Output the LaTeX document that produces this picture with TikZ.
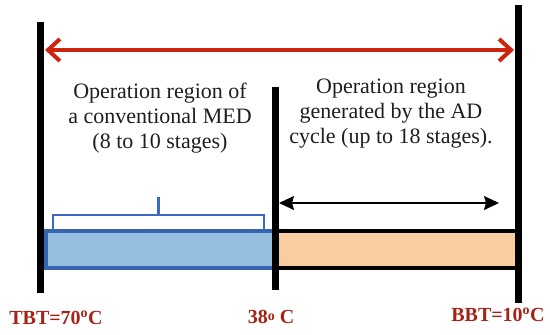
\documentclass[tikz,border=0pt]{standalone}
\usepackage{fontspec}
\setmainfont{Liberation Serif}
\usetikzlibrary{arrows.meta}
\definecolor{redarrow}{RGB}{205,35,15}
\definecolor{labelred}{RGB}{165,35,20}
\definecolor{bluefill}{RGB}{150,190,222}
\definecolor{blueline}{RGB}{55,100,175}
\definecolor{bracketblue}{RGB}{60,105,195}
\definecolor{orangefill}{RGB}{250,205,160}
\definecolor{textgray}{RGB}{30,30,30}
\tikzset{
  bar/.style={line width=7pt},
  regiontext/.style={font=\fontsize{22}{25}\selectfont, align=center, text=textgray, inner sep=0pt},
  templabel/.style={font=\fontsize{20}{22}\selectfont\bfseries, text=labelred, inner sep=0pt},
}
\begin{document}
\begin{tikzpicture}[x=1pt,y=-1pt]
\useasboundingbox (0,0) rectangle (550,335);
% vertical bars
\coordinate (LT) at (40,22);  \coordinate (LB) at (40,293);
\coordinate (MT) at (275,87); \coordinate (MB) at (275,290);
\coordinate (RT) at (518,5);  \coordinate (RB) at (518,303);
% boxes
\node[draw=blueline, line width=3.5pt, fill=bluefill, inner sep=0pt,
      minimum width=228pt, minimum height=37pt] (bluebox) at (160,249.5) {};
\node[draw=black, line width=3.5pt, fill=orangefill, inner sep=0pt,
      minimum width=241pt, minimum height=37pt] (orangebox) at (396.5,249.5) {};
\draw[bar] (LT) -- (LB);
\draw[bar] (MT) -- (MB);
\draw[bar] (RT) -- (RB);
% bracket
\coordinate (brL) at (53,230);
\coordinate (brR) at (264,230);
\coordinate (brM) at (158.5,215);
\coordinate (brTip) at (158.5,197);
\draw[bracketblue, line width=2.2pt] (brL) |- (brM) -| (brR);
\draw[bracketblue, line width=2.2pt] (brM) -- (brTip);
% red arrow
\coordinate (rA) at (45,50);
\coordinate (rB) at (514,50);
\draw[redarrow, line width=3.5pt,
  {Straight Barb[length=12pt,width=22pt,line width=4pt]}-{Straight Barb[length=12pt,width=22pt,line width=4pt]}]
  (rA) -- (rB);
% black arrow
\coordinate (bA) at (279,203);
\coordinate (bB) at (499,203);
\draw[black, line width=1.6pt, {Stealth[length=15pt,width=14pt,inset=2pt]}-{Stealth[length=15pt,width=14pt,inset=2pt]}] (bA) -- (bB);
% texts
\node[regiontext] (t1) at (160,118) {Operation region of\\a conventional MED\\(8 to 10 stages)};
\node[regiontext] (t2) at (391,114) {Operation region\\generated by the AD\\cycle (up to 18 stages).};
\node[templabel] (tbt) at (56,318) {TBT=70\textsuperscript{o}C};
\node[templabel] (t38) at (271,317) {38\raisebox{0.3ex}{\fontsize{14}{14}\selectfont o} C};
\node[templabel] (bbt) at (498,315) {BBT=10\textsuperscript{o}C};
\end{tikzpicture}
\end{document}
